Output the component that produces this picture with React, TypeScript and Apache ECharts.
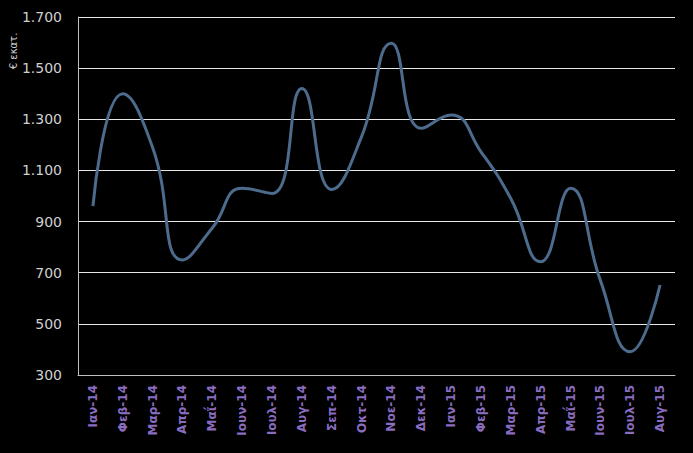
import React, { useEffect, useRef } from "react";
import * as echarts from "echarts";

const categories = [
  "Ιαν-14", "Φεβ-14", "Μαρ-14", "Απρ-14", "Μαΐ-14", "Ιουν-14", "Ιουλ-14", "Αυγ-14",
  "Σεπ-14", "Οκτ-14", "Νοε-14", "Δεκ-14", "Ιαν-15", "Φεβ-15", "Μαρ-15", "Απρ-15",
  "Μαΐ-15", "Ιουν-15", "Ιουλ-15", "Αυγ-15",
];
const values = [
  960, 1400, 1190, 750, 875, 1030, 1010, 1420, 1025, 1232, 1597, 1265, 1317, 1173,
  990, 743, 1030, 670, 391, 652,
];
const yTicks = { min: 300, max: 1700, interval: 200 };
const yName = "€ εκατ.";

export default function App() {
  const ref = useRef<HTMLDivElement>(null);
  useEffect(() => {
    if (!ref.current) return;
    document.body.style.margin = "0";
    document.body.style.background = "#000";
    const chart = echarts.init(ref.current, null, { renderer: "svg" });
    chart.setOption({
      animation: false,
      backgroundColor: "#000000",
      grid: { left: 78, right: 18, top: 17, bottom: 78 },
      graphic: [
        {
          type: "text",
          x: 13,
          y: 51,
          rotation: Math.PI / 2,
          style: {
            text: yName,
            fill: "#d0d0d0",
            font: "10px 'DejaVu Sans'",
            align: "center",
            verticalAlign: "middle",
            textAlign: "center",
            textVerticalAlign: "middle",
          },
        },
      ],
      xAxis: {
        type: "category",
        data: categories,
        boundaryGap: true,
        axisLine: { show: true, lineStyle: { color: "#bfbfbf", width: 1 } },
        axisTick: { show: false },
        axisLabel: {
          rotate: 90,
          interval: 0,
          margin: 10,
          color: "#8a6cc0",
          fontFamily: "DejaVu Sans",
          fontWeight: "bold",
          fontSize: 12,
        },
        splitLine: { show: false },
      },
      yAxis: {
        type: "value",
        min: yTicks.min,
        max: yTicks.max,
        interval: yTicks.interval,
        axisLine: { show: true, lineStyle: { color: "#bfbfbf", width: 1 } },
        axisTick: { show: false },
        axisLabel: {
          margin: 16,
          color: "#cfcfcf",
          fontFamily: "DejaVu Sans",
          fontSize: 14,
          formatter: (v: number) => v.toLocaleString("de-DE"),
        },
        splitLine: { show: true, lineStyle: { color: "#e6e6e6", width: 1 } },
      },
      series: [
        {
          type: "line",
          data: values,
          smooth: 0.5,
          symbol: "none",
          lineStyle: { color: "#4d6b8d", width: 3 },
        },
      ],
    });
    return () => chart.dispose();
  }, []);
  return (
    <div
      ref={ref}
      style={{ position: "fixed", left: 0, top: 0, width: 693, height: 453 }}
    />
  );
}
